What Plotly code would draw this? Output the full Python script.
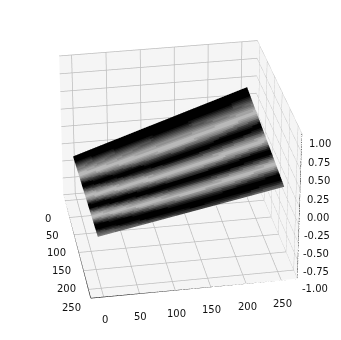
import math
import plotly.graph_objects as go

# Gray level (0 black .. 1 white) along the x direction, read across the stripes
band_levels = [.03,0,0,.02,.06,.12,.2,.27,.33,.39,.45,.5,.56,.62,.66,.68,.66,.6,.51,.41,.3,.2,.11,.04,0,.04,.12,.22,.33,.44,.54,.62,.67,.68,.63,.53,.41,.29,.17,.07,0,.01,.07,.18,.31,.44,.55,.63,.67,.66,.58,.46,.33,.21,.1,.03,0,.01,.06,.15,.26,.36,.42,.46]
# Stripe drift, in rows, at each column along y
column_shift = [0,.2,.3,.45,.6,.7,.85,1,1.1,1.25,1.4,1.5,1.6,1.7,1.8,1.9,2,2.1,2.2,2.3,2.35,2.4,2.5,2.55,2.6,2.65,2.7,2.75,2.8,2.8,2.85,2.85,2.9,2.9,2.9,2.9,2.9,2.85,2.85,2.8,2.8,2.75,2.7,2.65,2.6,2.55,2.5,2.45,2.4,2.3,2.25,2.2,2.1,2,1.95,1.9,1.8,1.7,1.65,1.6,1.5,1.45,1.4,1.3]
x_start, x_stop = 0, 255
y_start, y_stop = -4, 255
# Surface height at its four corners: (x0,y0), (x1,y0), (x0,y1), (x1,y1)
corner_z = [-0.36, -0.25, 0.43, 0.21]
x_ticks = [0,50,100,150,200,250]
y_ticks = [0,50,100,150,200,250]
z_ticks = [-1,-0.75,-0.5,-0.25,0,0.25,0.5,0.75,1]
z_labels = ["-1.00","-0.75","-0.50","-0.25","0.00","0.25","0.50","0.75","1.00"]
axis_lo, axis_hi = -18, 273
gray_steps = 10
lightest = 0.72

nr, nc = len(band_levels), len(column_shift)

def level(i, j):
    p = max(0.0, min(nr - 1.0, i - column_shift[j]))
    a = int(p)
    b = min(nr - 1, a + 1)
    return band_levels[a] + (band_levels[b] - band_levels[a]) * (p - a)

# Each grid cell keeps a single flat colour: vertices are doubled along both directions
def cell_edges(count):
    idx = []
    for k in range(count):
        idx += [k, k + 1]
    return idx

ei, ej = cell_edges(nr), cell_edges(nc)
xs = [x_start + (x_stop - x_start) * k / nr for k in ei]
ys = [y_start + (y_stop - y_start) * k / nc for k in ej]
cells_i = [k // 2 for k in range(2 * nr)]
cells_j = [k // 2 for k in range(2 * nc)]
color = [[level(i, j) for i in cells_i] for j in cells_j]
zz = [[(1 - u / nr) * (1 - v / nc) * corner_z[0] + (u / nr) * (1 - v / nc) * corner_z[1]
       + (1 - u / nr) * (v / nc) * corner_z[2] + (u / nr) * (v / nc) * corner_z[3] for u in ei] for v in ej]

scale = []
for k in range(gray_steps):
    g = round(255 * lightest * k / (gray_steps - 1))
    scale += [[k / gray_steps, f"rgb({g},{g},{g})"], [(k + 1) / gray_steps, f"rgb({g},{g},{g})"]]

wall = "#f5f5f5"; grid = "#bdbdbd"
def axis(vals, rng):
    return dict(range=rng, tickvals=vals, title=dict(text=""), showbackground=True, backgroundcolor=wall,
                gridcolor=grid, gridwidth=1.5, zeroline=False, showspikes=False, showline=False,
                ticks="", showticklabels=False)

s = 0.3
elev, azim, r = math.radians(29), math.radians(-10), 1.5 * 7.15 * s
eye = dict(x=r * math.cos(elev) * math.cos(azim), y=r * math.cos(elev) * math.sin(azim), z=r * math.sin(elev))

fig = go.Figure(go.Surface(x=xs, y=ys, z=zz, surfacecolor=color, cmin=0, cmax=lightest,
    colorscale=scale, showscale=False, lighting=dict(ambient=1, diffuse=0, specular=0, fresnel=0)))

def seg(x, y, z, width=1.3):
    fig.add_trace(go.Scatter3d(x=x, y=y, z=z, mode="lines", line=dict(color="#222", width=width),
                               showlegend=False, hoverinfo="skip"))
seg([axis_hi, axis_hi], [axis_hi, axis_hi], [-1, 1])
seg([axis_lo, axis_hi], [axis_lo, axis_lo], [-1, -1])
seg([axis_hi, axis_hi], [axis_lo, axis_hi], [-1, -1])
for v in z_ticks: seg([axis_hi, axis_hi], [axis_hi, axis_hi + 5], [v, v])
for v in x_ticks: seg([v, v], [axis_lo, axis_lo - 5], [-1, -1])
for v in y_ticks: seg([axis_hi, axis_hi + 8], [v, v], [-1, -1])

font = dict(family="DejaVu Sans", size=10, color="#111")
ann = []
for v in x_ticks:
    ann.append(dict(x=v, y=axis_lo, z=-1, text=str(v), showarrow=False, font=font, xshift=-17, yshift=-18))
for v in y_ticks:
    ann.append(dict(x=axis_hi, y=v, z=-1, text=str(v), showarrow=False, font=font, xshift=1, yshift=-23))
for v, t in zip(z_ticks, z_labels):
    ann.append(dict(x=axis_hi, y=axis_hi, z=v, text=t, showarrow=False, font=font, xshift=18, yshift=-10))

fig.update_layout(width=341, height=340, margin=dict(l=0, r=0, t=0, b=0), paper_bgcolor="white",
    scene=dict(
        xaxis=axis(x_ticks, [axis_lo, axis_hi]),
        yaxis=axis(y_ticks, [axis_lo, axis_hi]),
        zaxis=axis(z_ticks, [-1, 1]),
        annotations=ann,
        aspectmode="manual", aspectratio=dict(x=s, y=s, z=0.79 * s),
        camera=dict(projection=dict(type="perspective"), up=dict(x=0, y=0, z=1),
                    center=dict(x=0, y=0.003, z=-0.021), eye=eye),
    ))
post = """
var gd=document.getElementById('{plot_id}');
var g=gd._fullLayout.scene._scene.glplot;
g.fovy=0.154; if(g.redraw) g.redraw();
"""
fig.write_html("out.html", post_script=post)
